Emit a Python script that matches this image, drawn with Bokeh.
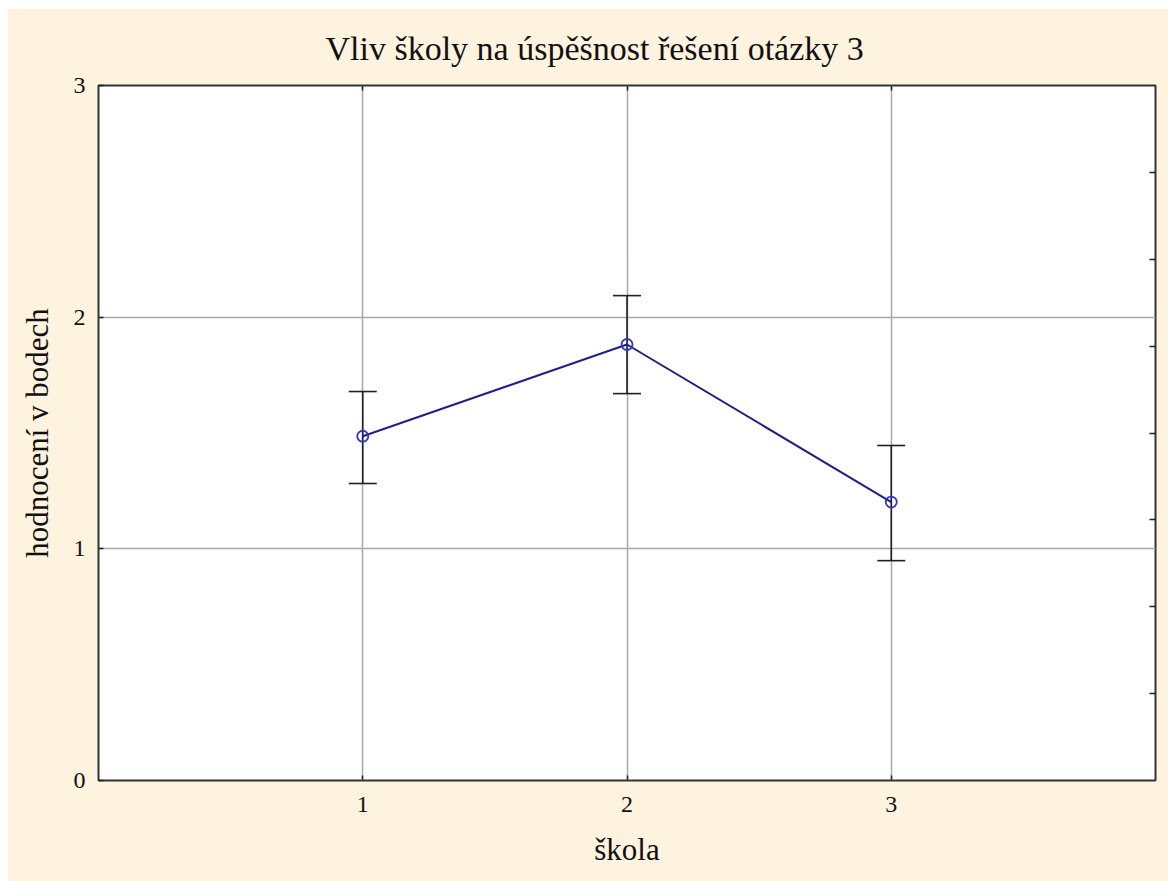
from bokeh.plotting import figure
from bokeh.models import (Range1d, LinearAxis, FixedTicker, ColumnDataSource,
                          Whisker, TeeHead, CustomJSTickFormatter)
from bokeh.embed import file_html
from bokeh.resources import INLINE

# ---- data ----
schools = [1, 2, 3]
means = [1.486, 1.882, 1.202]
upper = [1.679, 2.093, 1.446]
lower = [1.282, 1.670, 0.949]
x_ticks = [1, 2, 3]
y_ticks = [0, 1, 2, 3]
y_minor_ticks = [0.375, 0.75, 1.125, 1.5, 1.875, 2.25, 2.625]

title_text = "Vliv školy na úspěšnost řešení otázky 3"
x_label = "škola"
y_label = "hodnocení v bodech"

CREAM = "#FEF3DF"
SERIF = "Liberation Serif"

src = ColumnDataSource(dict(x=schools, y=means, up=upper, lo=lower))

p = figure(width=1161, height=873, output_backend="svg", toolbar_location=None,
           x_range=Range1d(0, 4), y_range=Range1d(0, 3),
           min_border_left=91, min_border_right=13, min_border_top=77,
           min_border_bottom=101, title=title_text)
p.margin = (8, 0, 0, 7)
p.background_fill_color = "white"
p.border_fill_color = CREAM
p.outline_line_color = "#333333"
p.outline_line_width = 2

p.title.align = "left"
p.title.offset = 227
p.title.text_font = SERIF
p.title.text_font_size = "34px"
p.title.text_font_style = "normal"
p.title.text_color = "#111111"
p.title.standoff = 37

# bottom / left axes
for ax in (p.xaxis[0], p.yaxis[0]):
    ax.axis_line_color = None
    ax.major_tick_in = 5
    ax.major_tick_out = 0
    ax.minor_tick_line_color = None
    ax.major_tick_line_color = "#222222"
    ax.major_tick_line_width = 1.5
    ax.major_label_text_font = SERIF
    ax.major_label_text_font_size = "24px"
    ax.major_label_text_color = "#111111"
    ax.axis_label_text_font = SERIF
    ax.axis_label_text_font_size = "31px"
    ax.axis_label_text_font_style = "normal"
    ax.axis_label_text_color = "#111111"

p.xaxis[0].ticker = FixedTicker(ticks=x_ticks)
p.yaxis[0].ticker = FixedTicker(ticks=y_ticks)
p.xaxis[0].axis_label = x_label
p.yaxis[0].axis_label = y_label
p.xaxis[0].major_label_standoff = 16
p.xaxis[0].axis_label_standoff = 17
p.yaxis[0].major_label_standoff = 13
p.yaxis[0].axis_label_standoff = 16

blank = CustomJSTickFormatter(code="return ''")

# right axis with fine ticks (no labels)
right = LinearAxis(ticker=FixedTicker(ticks=y_minor_ticks), axis_line_color=None,
                   major_tick_in=6, major_tick_out=0, major_tick_line_width=1.5,
                   major_tick_line_color="#222222", minor_tick_line_color=None,
                   formatter=blank, major_label_standoff=0)
p.add_layout(right, "right")

# top axis ticks (no labels)
top = LinearAxis(ticker=FixedTicker(ticks=x_ticks), axis_line_color=None,
                 major_tick_in=5, major_tick_out=0, major_tick_line_width=1.5,
                 major_tick_line_color="#222222", minor_tick_line_color=None,
                 formatter=blank, major_label_standoff=0)
p.add_layout(top, "above")

# grid
p.xgrid.ticker = FixedTicker(ticks=x_ticks)
p.ygrid.ticker = FixedTicker(ticks=y_ticks)
for g in (p.xgrid[0], p.ygrid[0]):
    g.grid_line_color = "#a8a8a8"
    g.grid_line_width = 1.5

# error bars
w = Whisker(source=src, base="x", upper="up", lower="lo", dimension="height",
            line_color="#1e1e2e", line_width=1.6,
            upper_head=TeeHead(size=28, line_color="#1e1e2e", line_width=1.6),
            lower_head=TeeHead(size=28, line_color="#1e1e2e", line_width=1.6))
p.add_layout(w)

# line + markers
p.line("x", "y", source=src, line_color="#1f1f8a", line_width=2)
p.scatter("x", "y", source=src, marker="circle", size=11, fill_color=None,
          line_color="#3434c0", line_width=1.8)

html = file_html(p, INLINE)
html = html.replace("<body>", '<body style="margin:0;background:white;">')
open("out.html", "w").write(html)
